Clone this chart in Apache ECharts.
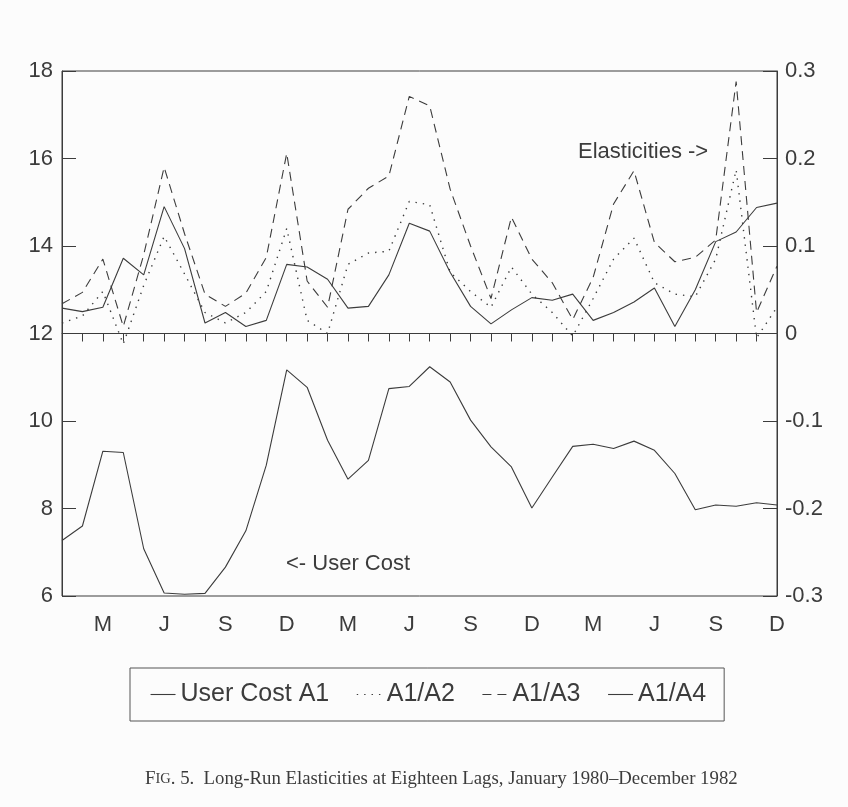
<!DOCTYPE html>
<html>
<head>
<meta charset="utf-8">
<script src="https://cdn.jsdelivr.net/npm/echarts@6/dist/echarts.min.js"></script>
<style>
html,body{margin:0;padding:0;background:#fcfcfc;}
#chart{width:848px;height:807px;}
</style>
</head>
<body>
<div id="chart"></div>
<script>
// Months January 1980 - December 1982
const months = [
  '1980-01','1980-02','1980-03','1980-04','1980-05','1980-06','1980-07','1980-08','1980-09','1980-10','1980-11','1980-12',
  '1981-01','1981-02','1981-03','1981-04','1981-05','1981-06','1981-07','1981-08','1981-09','1981-10','1981-11','1981-12',
  '1982-01','1982-02','1982-03','1982-04','1982-05','1982-06','1982-07','1982-08','1982-09','1982-10','1982-11','1982-12'
];
const tickLabels = [
  '','','M','','','J','','','S','','','D',
  '','','M','','','J','','','S','','','D',
  '','','M','','','J','','','S','','','D'
];
// Left axis: user cost
const userCostA1 = [7.27,7.60,9.31,9.28,7.08,6.07,6.04,6.06,6.66,7.49,8.99,11.17,
                    10.77,9.56,8.67,9.10,10.74,10.79,11.24,10.89,10.02,9.41,8.95,8.01,
                    8.72,9.42,9.47,9.37,9.54,9.33,8.80,7.97,8.08,8.05,8.13,8.08];
// Right axis: elasticities
const a1a2 = [0.012,0.020,0.048,-0.012,0.055,0.111,0.068,0.024,0.012,0.024,0.048,0.120,
              0.015,0.000,0.079,0.092,0.094,0.151,0.147,0.070,0.048,0.030,0.076,0.045,
              0.024,-0.003,0.040,0.085,0.109,0.058,0.045,0.042,0.085,0.187,-0.005,0.030];
const a1a3 = [0.034,0.047,0.085,0.008,0.090,0.190,0.114,0.045,0.031,0.046,0.087,0.206,
              0.060,0.030,0.142,0.166,0.180,0.271,0.260,0.165,0.100,0.040,0.133,0.085,
              0.058,0.016,0.064,0.148,0.186,0.104,0.082,0.087,0.107,0.288,0.024,0.077];
const a1a4 = [0.029,0.025,0.030,0.086,0.067,0.145,0.097,0.012,0.024,0.008,0.015,0.079,
              0.076,0.062,0.029,0.031,0.067,0.126,0.117,0.070,0.031,0.011,0.027,0.041,
              0.038,0.045,0.015,0.024,0.036,0.052,0.008,0.050,0.105,0.116,0.144,0.149];

const ink = '#3c3c3c';
const sans = 'Liberation Sans';
const chart = echarts.init(document.getElementById('chart'), null, {renderer: 'canvas'});
chart.setOption({
  backgroundColor: '#fcfcfc',
  animation: false,
  grid: {left: 62, right: 71, top: 71, bottom: 211, show: true, borderColor: ink, borderWidth: 1, backgroundColor: 'transparent'},
  legend: {
    left: 130, top: 668,
    padding: [14, 18, 14, 20],
    borderColor: '#555', borderWidth: 1,
    itemWidth: 25, itemHeight: 10, itemGap: 27,
    itemStyle: {opacity: 0, borderWidth: 0},
    lineStyle: {width: 1.1},
    textStyle: {fontFamily: sans, fontSize: 25, color: ink},
    data: ['User Cost A1', 'A1/A2', 'A1/A3', 'A1/A4']
  },
  xAxis: {
    type: 'category', data: months, boundaryGap: false,
    axisLine: {lineStyle: {color: ink, width: 1}},
    axisTick: {show: true, interval: 0, length: 8, lineStyle: {color: ink}},
    axisLabel: {
      interval: function (i) { return tickLabels[i] !== ''; },
      formatter: function (v, i) { return tickLabels[i]; },
      fontFamily: sans, fontSize: 22, color: ink, margin: 18
    },
    splitLine: {show: false}
  },
  yAxis: [
    {type: 'value', min: 6, max: 18, interval: 2, position: 'left',
     axisLine: {show: true, lineStyle: {color: ink}},
     axisTick: {show: true, inside: true, length: 14, lineStyle: {color: ink}},
     axisLabel: {fontFamily: sans, fontSize: 22, color: ink, margin: 9},
     splitLine: {show: false}},
    {type: 'value', min: -0.3, max: 0.3, interval: 0.1, position: 'right',
     axisLine: {show: true, lineStyle: {color: ink}},
     axisTick: {show: true, inside: true, length: 14, lineStyle: {color: ink}},
     axisLabel: {fontFamily: sans, fontSize: 22, color: ink, margin: 8,
       formatter: function (v) { return (Math.round(v * 10) / 10).toString(); }},
     splitLine: {show: false}}
  ],
  series: [
    {name: 'User Cost A1', type: 'line', yAxisIndex: 0, data: userCostA1, symbol: 'none',
     lineStyle: {color: ink, width: 1.1, type: 'solid'}, itemStyle: {color: ink}},
    {name: 'A1/A2', type: 'line', yAxisIndex: 1, data: a1a2, symbol: 'none',
     lineStyle: {color: ink, width: 1.4, type: [1.4, 6]}, itemStyle: {color: ink}},
    {name: 'A1/A3', type: 'line', yAxisIndex: 1, data: a1a3, symbol: 'none',
     lineStyle: {color: ink, width: 1.1, type: [9, 6]}, itemStyle: {color: ink}},
    {name: 'A1/A4', type: 'line', yAxisIndex: 1, data: a1a4, symbol: 'none',
     lineStyle: {color: ink, width: 1.1, type: 'solid'}, itemStyle: {color: ink},
     markLine: {silent: true, symbol: 'none', label: {show: false},
       lineStyle: {color: ink, width: 1.2, type: 'solid'}, data: [{yAxis: 0}]}}
  ],
  graphic: [
    {type: 'text', left: 578, top: 141, style: {text: 'Elasticities ->', font: '22px "Liberation Sans"', fill: ink}},
    {type: 'text', left: 286, top: 553, style: {text: '<- User Cost', font: '22px "Liberation Sans"', fill: ink}},
    {type: 'text', left: 145, top: 770, style: {
      text: '{b|F}{s|IG}{b|. 5.  Long-Run Elasticities at Eighteen Lags, January 1980–December 1982}',
      rich: {
        b: {fontFamily: 'Liberation Serif', fontSize: 18.8, fill: ink},
        s: {fontFamily: 'Liberation Serif', fontSize: 14.5, fill: ink}
      }
    }}
  ]
});
</script>
</body>
</html>
